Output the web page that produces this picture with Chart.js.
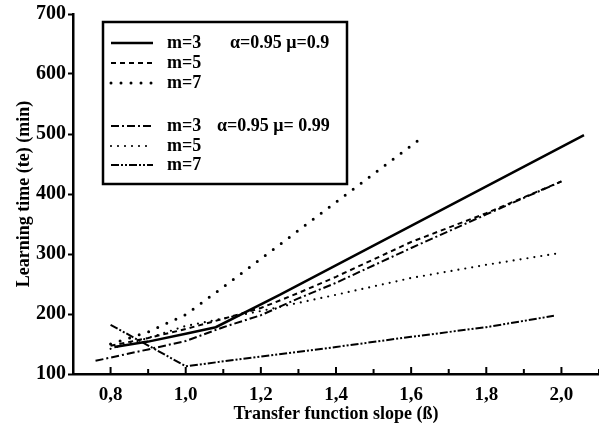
<!DOCTYPE html>
<html>
<head>
<meta charset="utf-8">
<script src="https://cdn.jsdelivr.net/npm/chart.js@4/dist/chart.umd.min.js"></script>
<style>
  html, body { margin: 0; padding: 0; background: #fff; }
  #wrap { width: 599px; height: 426px; }
</style>
</head>
<body>
<div id="wrap"><canvas id="myChart"></canvas></div>
<script>
// series labels (legend rows) and group captions
const seriesLabels = ['m=3', 'm=5', 'm=7', 'm=3', 'm=5', 'm=7'];
const groupLabels = ['\u03b1=0.95 \u03bc=0.9', '\u03b1=0.95 \u03bc= 0.99'];

// alpha=0.95 mu=0.9
const betaA3 = [0.81, 0.9, 1.0, 1.08, 1.25, 2.06];
const timeA3 = [145, 154, 167, 178, 232, 498];
const betaA5 = [0.8, 0.9, 1.0, 1.1, 1.2, 1.3, 1.4, 1.6, 1.8, 2.0];
const timeA5 = [147, 160, 175, 192, 210, 235, 262, 320, 368, 421];
const betaA7 = [0.8, 0.9, 1.0, 1.1, 1.62];
const timeA7 = [150, 170, 199, 245, 490];

// alpha=0.95 mu=0.99
const betaB3 = [0.76, 0.9, 1.0, 1.1, 1.2, 1.3, 1.4, 1.6, 1.8, 2.0];
const timeB3 = [122, 141, 155, 178, 198, 226, 252, 310, 366, 421];
const betaB5 = [0.8, 0.9, 1.0, 1.2, 1.4, 1.6, 1.8, 1.99];
const timeB5 = [142, 160, 180, 205, 232, 260, 282, 301];
const betaB7 = [0.8, 1.0, 1.2, 1.4, 1.6, 1.8, 1.98];
const timeB7 = [182, 113, 129, 145, 162, 178, 197];

// axis ticks
const yTicks = [100, 200, 300, 400, 500, 600, 700];
const xLabelled = [0.8, 1.0, 1.2, 1.4, 1.6, 1.8, 2.0];

const toPoints = (xs, ys) => xs.map((x, i) => ({ x: x, y: ys[i] }));

const lineStyles = [
    { borderWidth: 2.5, borderDash: [], borderCapStyle: 'butt' },
    { borderWidth: 2, borderDash: [5, 4], borderCapStyle: 'butt' },
    { borderWidth: 3, borderDash: [0, 10], borderCapStyle: 'round' },
    { borderWidth: 2, borderDash: [8, 3, 2, 3], borderCapStyle: 'butt' },
    { borderWidth: 2.2, borderDash: [0, 7], borderCapStyle: 'round' },
    { borderWidth: 2, borderDash: [8, 2, 2, 2, 2, 2], borderCapStyle: 'butt' }
];

const allSeries = [
    toPoints(betaA3, timeA3), toPoints(betaA5, timeA5), toPoints(betaA7, timeA7),
    toPoints(betaB3, timeB3), toPoints(betaB5, timeB5), toPoints(betaB7, timeB7)
];

const datasets = allSeries.map((pts, i) => Object.assign({
    label: seriesLabels[i],
    data: pts,
    showLine: true,
    borderColor: '#000',
    backgroundColor: '#000',
    pointRadius: 0,
    tension: 0
}, lineStyles[i]));

const serif = '"Liberation Serif", "Times New Roman", serif';

// inward x-axis ticks (0.1 step, longer at labelled values)
const xTickPlugin = {
    id: 'xTicks',
    afterDraw(chart) {
        const sc = chart.scales.x;
        const ctx = chart.ctx;
        ctx.save();
        ctx.strokeStyle = '#000';
        ctx.lineWidth = 2;
        sc.ticks.forEach(t => {
            const v = Math.round(t.value * 10) / 10;
            if (v <= 0.7) return;
            const px = sc.getPixelForValue(v);
            const major = Math.round(v * 10) % 2 === 0;
            ctx.beginPath();
            ctx.moveTo(px, sc.top);
            ctx.lineTo(px, sc.top - (major ? 7 : 5));
            ctx.stroke();
        });
        ctx.restore();
    }
};

// boxed legend like the original figure
const boxLegend = {
    id: 'boxLegend',
    afterDraw(chart) {
        const ctx = chart.ctx;
        const rows = [43, 63, 83, 126, 146, 165];
        ctx.save();
        ctx.fillStyle = '#fff';
        ctx.fillRect(103, 22, 244, 162);
        ctx.strokeStyle = '#000';
        ctx.lineWidth = 2.5;
        ctx.strokeRect(103, 22, 244, 162);
        ctx.font = 'bold 18px ' + serif;
        ctx.fillStyle = '#000';
        ctx.textBaseline = 'middle';
        chart.data.datasets.forEach((ds, i) => {
            const y = rows[i];
            ctx.beginPath();
            ctx.lineWidth = ds.borderWidth;
            ctx.setLineDash(ds.borderDash);
            ctx.lineCap = ds.borderCapStyle;
            ctx.moveTo(111, y);
            ctx.lineTo(153, y);
            ctx.stroke();
            ctx.setLineDash([]);
            ctx.fillText(ds.label, 167, y);
        });
        ctx.fillText(groupLabels[0], 230, rows[0]);
        ctx.fillText(groupLabels[1], 217, rows[3]);
        ctx.restore();
    }
};

new Chart(document.getElementById('myChart'), {
    type: 'scatter',
    data: { datasets: datasets },
    options: {
        responsive: true,
        maintainAspectRatio: false,
        animation: false,
        layout: { padding: { top: 14, right: 0, left: 0, bottom: 0 } },
        plugins: {
            legend: { display: false },
            tooltip: { enabled: false }
        },
        scales: {
            x: {
                type: 'linear',
                min: 0.7,
                max: 2.1,
                afterFit(scale) {
                    scale.height = 52;
                    scale.paddingRight = 0;
                    scale.paddingLeft = 0;
                },
                afterBuildTicks(scale) {
                    const arr = [];
                    for (let k = 7; k <= 21; k++) arr.push({ value: k / 10 });
                    scale.ticks = arr;
                },
                ticks: {
                    autoSkip: false,
                    maxRotation: 0,
                    padding: 10,
                    color: '#000',
                    font: { family: serif, size: 19, weight: 'bold' },
                    callback(value) {
                        const v = Math.round(value * 10) / 10;
                        if (!xLabelled.includes(v)) return '';
                        return v.toFixed(1).replace('.', ',');
                    }
                },
                grid: { display: false, drawTicks: false },
                border: { display: true, color: '#000', width: 2.5 },
                title: {
                    display: true,
                    text: 'Transfer function slope (\u00df)',
                    color: '#000',
                    font: { family: serif, size: 18, weight: 'bold' },
                    padding: { top: 0, bottom: 1 }
                }
            },
            y: {
                min: 100,
                max: 700,
                afterFit(scale) { scale.width = 73; },
                afterBuildTicks(scale) {
                    scale.ticks = yTicks.map(v => ({ value: v }));
                },
                ticks: {
                    padding: 2,
                    color: '#000',
                    font: { family: serif, size: 20, weight: 'bold' }
                },
                grid: {
                    drawOnChartArea: false,
                    drawTicks: true,
                    tickLength: 5,
                    tickWidth: 2,
                    tickColor: '#000'
                },
                border: { display: true, color: '#000', width: 2.5 },
                title: {
                    display: true,
                    text: 'Learning time (te) (min)',
                    color: '#000',
                    font: { family: serif, size: 18, weight: 'bold' },
                    padding: { top: 14, bottom: 0 }
                }
            }
        }
    },
    plugins: [xTickPlugin, boxLegend]
});
</script>
</body>
</html>
